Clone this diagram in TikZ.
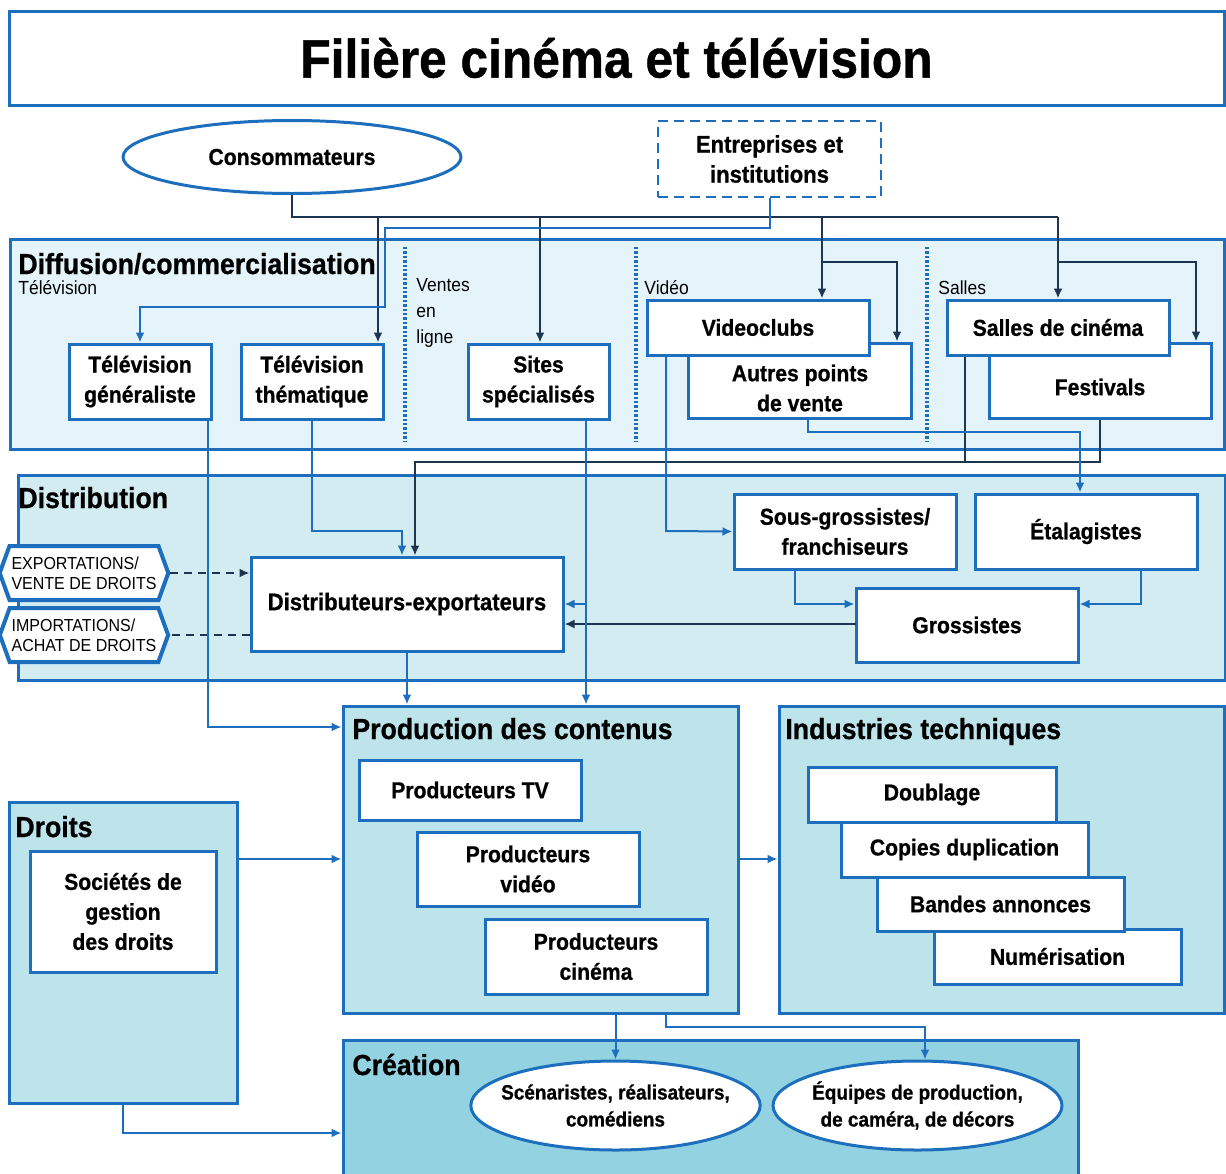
\documentclass[tikz,border=0pt]{standalone}
\usepackage{fontspec}
\setmainfont{Liberation Sans}[FakeStretch=0.92,BoldFeatures={FakeBold=0.8}]
\usetikzlibrary{arrows.meta,fit,shapes.geometric,shapes.symbols}
\definecolor{bblue}{HTML}{1E6EBE}
\definecolor{navy}{HTML}{1C3550}
\definecolor{diffFill}{HTML}{E5F4FB}
\definecolor{distFill}{HTML}{D3ECF2}
\definecolor{prodFill}{HTML}{BDE3EB}
\definecolor{creaFill}{HTML}{93D3E1}
\begin{document}
\begin{tikzpicture}[x=0.5pt,y=-0.5pt,
  bx/.style={draw=bblue,line width=1.5pt,fill=white,inner sep=0pt,align=center,font=\bfseries\fontsize{11.5}{15}\selectfont},
  sz/.style 2 args={minimum width=#1,minimum height=#2},
  txt/.style={inner sep=0pt,align=center,font=\bfseries\fontsize{11.5}{15}\selectfont},
  sec/.style={draw=bblue,line width=1.5pt,inner sep=0pt},
  stitle/.style={anchor=base west,inner sep=0pt,font=\bfseries\fontsize{14.5}{16}\selectfont},
  sub/.style={anchor=west,inner sep=0pt,font=\fontsize{9.5}{13}\selectfont,align=left},
  bl/.style={draw=bblue,line width=1pt},
  ba/.style={bl,-{Latex[length=5pt,width=4.5pt]}},
  nl/.style={draw=navy,line width=1pt},
  na/.style={nl,-{Latex[length=5pt,width=4.5pt]}},
  sepline/.style={draw=bblue,line width=1.8pt,dash pattern=on 1.2pt off 1pt},
  dsh/.style={dash pattern=on 4pt off 3pt},
  ell/.style={ellipse,draw=bblue,line width=1.5pt,fill=white,inner sep=0pt,align=center},
  tag/.style={signal,signal to=east and west,signal pointer angle=140,draw=bblue,line width=2pt,fill=white,
     minimum width=84pt,minimum height=27pt,inner xsep=1pt,inner ysep=2pt,align=left,font=\fontsize{8.7}{10}\selectfont},
]
\useasboundingbox (0,0) rectangle (1226,1173);

% title
\node[sec,fill=white,sz={607.5pt}{47pt},font=\bfseries\fontsize{27}{30}\selectfont] (title) at (616.5,58) {Filière cinéma et télévision};

% top actors
\node[ell,minimum width=169pt,minimum height=36.5pt,font=\bfseries\fontsize{11.5}{15}\selectfont] (cons) at (292,157) {Consommateurs};
\node[bx,line width=1.3pt,dash pattern=on 5pt off 3pt,sz={111.5pt}{38pt},font=\bfseries\fontsize{12}{15}\selectfont] (ent) at (769.5,159) {Entreprises et\\institutions};

% sections
\node[sec,fill=diffFill,fit={(10,239) (1224,449)}] (diff) {};
\node[sec,fill=distFill,fit={(18,475) (1225,680)}] (distr) {};
\node[sec,fill=prodFill,fit={(343,706) (738,1013)}] (prod) {};
\node[sec,fill=prodFill,fit={(779,706) (1224,1013)}] (ind) {};
\node[sec,fill=prodFill,fit={(9,802) (237,1103)}] (droits) {};
\node[sec,fill=creaFill,fit={(343,1040) (1078,1185)}] (crea) {};

\node[stitle] (tdiff) at (18,274) {Diffusion/commercialisation};
\node[sub] (ltv) at (18,288) {Télévision};
\node[sub,anchor=north west] (lvl) at (416,278) {Ventes\\en\\ligne};
\node[sub] (lvid) at (644,288) {Vidéo};
\node[sub] (lsal) at (938,288) {Salles};
\node[stitle] (tdist) at (18,508) {Distribution};
\node[stitle] (tprod) at (352,739) {Production des contenus};
\node[stitle] (tind) at (785,739) {Industries techniques};
\node[stitle] (tdroits) at (15,837) {Droits};
\node[stitle] (tcrea) at (352,1075) {Création};

% separators
\coordinate (sp1) at (405,247); \coordinate (sp2) at (636,247); \coordinate (sp3) at (927,247);
\draw[sepline] (sp1) -- ++(0,194);
\draw[sepline] (sp2) -- ++(0,194);
\draw[sepline] (sp3) -- ++(0,194);

% diffusion boxes
\node[bx,sz={71pt}{37.5pt}] (tvg) at (140,381.5) {Télévision\\généraliste};
\node[bx,sz={71pt}{37.5pt}] (tvt) at (312,381.5) {Télévision\\thématique};
\node[bx,sz={70.5pt}{37.5pt}] (sites) at (538.5,381.5) {Sites\\spécialisés};
\node[bx,sz={111.5pt}{37.5pt}] (aut) at (799.5,380.5) {};
\node[txt] (autT) at (800,388) {Autres points\\de vente};
\node[bx,sz={111pt}{27.5pt}] (vid) at (758,327.5) {Videoclubs};
\node[bx,sz={111pt}{37.5pt}] (fest) at (1100,380.5) {};
\node[txt] (festT) at (1100,387) {Festivals};
\node[bx,sz={111pt}{27.5pt}] (sal) at (1058,327.5) {Salles de cinéma};

% distribution boxes
\node[tag] (exp) at (84,573) {EXPORTATIONS/\\VENTE DE DROITS};
\node[tag] (imp) at (84,635) {IMPORTATIONS/\\ACHAT DE DROITS};
\node[bx,sz={156pt}{47pt},font=\bfseries\fontsize{12}{15}\selectfont] (dist) at (407,604) {Distributeurs-exportateurs};
\node[bx,sz={111pt}{37.5pt}] (sous) at (845,531.5) {Sous-grossistes/\\franchiseurs};
\node[bx,sz={111pt}{37.5pt}] (etal) at (1086,531.5) {Étalagistes};
\node[bx,sz={111pt}{37pt}] (gross) at (967,625) {Grossistes};

% production
\node[bx,sz={111pt}{30pt}] (ptv) at (470,790) {Producteurs TV};
\node[bx,sz={111pt}{37pt}] (pvid) at (528,869) {Producteurs\\vidéo};
\node[bx,sz={111pt}{37.5pt}] (pcin) at (596,956.5) {Producteurs\\cinéma};

% industries
\node[bx,sz={123.5pt}{27.5pt}] (num) at (1057.5,956.5) {Numérisation};
\node[bx,sz={123.5pt}{27pt}] (band) at (1000.5,904) {Bandes annonces};
\node[bx,sz={123.5pt}{27.5pt}] (cop) at (964.5,849.5) {Copies duplication};
\node[bx,sz={124pt}{27.5pt}] (doub) at (932,794.5) {Doublage};

% droits
\node[bx,sz={93pt}{60.5pt}] (soc) at (123,911.5) {Sociétés de\\gestion\\des droits};

% creation
\node[ell,inner xsep=-6pt,minimum width=144.5pt,minimum height=44.5pt,font=\bfseries\fontsize{10.3}{13.5}\selectfont] (scen) at (615.5,1105.5) {Scénaristes, réalisateurs,\\comédiens};
\node[ell,inner xsep=-6pt,minimum width=144.5pt,minimum height=44.5pt,font=\bfseries\fontsize{10.3}{13.5}\selectfont] (equ) at (917.5,1105.5) {Équipes de production,\\de caméra, de décors};

% ---------- connectors ----------
% consumers trunk (dark)
\coordinate (trunkR) at (1058,217);
\draw[nl] (cons.south) |- (trunkR);
\coordinate (k1) at (378,217); \draw[na] (k1) -- (k1 |- tvt.north);
\coordinate (k2) at (540,217); \draw[na] (k2) -- (k2 |- sites.north);
\coordinate (k3) at (822,217); \draw[na] (k3) -- (k3 |- vid.north);
\coordinate (k4) at (822,262); \coordinate (k4e) at (897,262);
\draw[na] (k4) -- (k4e) -- (k4e |- aut.north);
\draw[na] (trunkR) -- (sal.north);
\coordinate (k5) at (1058,262); \coordinate (k5e) at (1196,262);
\draw[na] (k5) -- (k5e) -- (k5e |- fest.north);

% enterprises (blue)
\coordinate (e1) at (385,228); \coordinate (e2) at (140,307);
\draw[ba] (ent.south) |- (e1) |- (e2) -- (e2 |- tvg.north);

% diffusion -> distribution
\coordinate (d1) at (402,531);
\draw[ba] (tvt.south) |- (d1) -- (d1 |- dist.north);
\coordinate (s2) at (965,462);
\draw[nl] (sal.south -| s2) -- (s2);
\coordinate (f1) at (415,462);
\draw[na] (fest.south) |- (f1) -- (f1 |- dist.north);
\coordinate (a1) at (808,432); \coordinate (a2) at (1080,432);
\draw[ba] (aut.south -| a1) -- (a1) -- (a2) -- (a2 |- etal.north);
\coordinate (v1) at (666,531);
\draw[ba] (vid.south -| v1) -- (v1) -- (sous.west);
\coordinate (g1) at (795,604); \coordinate (g2) at (1141,604);
\draw[ba] (sous.south -| g1) -- (g1) -- (g1 -| gross.west);
\draw[ba] (etal.south -| g2) -- (g2) -- (g2 -| gross.east);
\coordinate (g3) at (856,624);
\draw[na] (g3) -- (g3 -| dist.east);
\coordinate (si) at (586,604);
\draw[ba] (sites.south -| si) -- (si |- prod.north);
\draw[ba] (si) -- (si -| dist.east);
\draw[nl,dsh,-{Latex[length=5pt,width=4.5pt]}] (exp.east) -- (exp.east -| dist.west);
\draw[nl,dsh] (dist.west |- imp.east) -- (imp.east);

% to production
\draw[ba] (dist.south) -- (dist.south |- prod.north);
\coordinate (t1) at (208,727);
\draw[ba] (tvg.south -| t1) -- (t1) -- (t1 -| prod.west);
\coordinate (p1) at (738,859);
\draw[ba] (p1) -- (p1 -| ind.west);
\coordinate (p2) at (237,859);
\draw[ba] (p2) -- (p2 -| prod.west);
\coordinate (r1) at (123,1133);
\draw[ba] (droits.south) -- (r1) -- (r1 -| crea.west);
\draw[ba] (prod.south -| scen.north) -- (scen.north);
\coordinate (q1) at (666,1027); \coordinate (q2) at (925,1027);
\draw[ba] (prod.south -| q1) -- (q1) -- (q2) -- (q2 |- equ.north);
\end{tikzpicture}
\end{document}
